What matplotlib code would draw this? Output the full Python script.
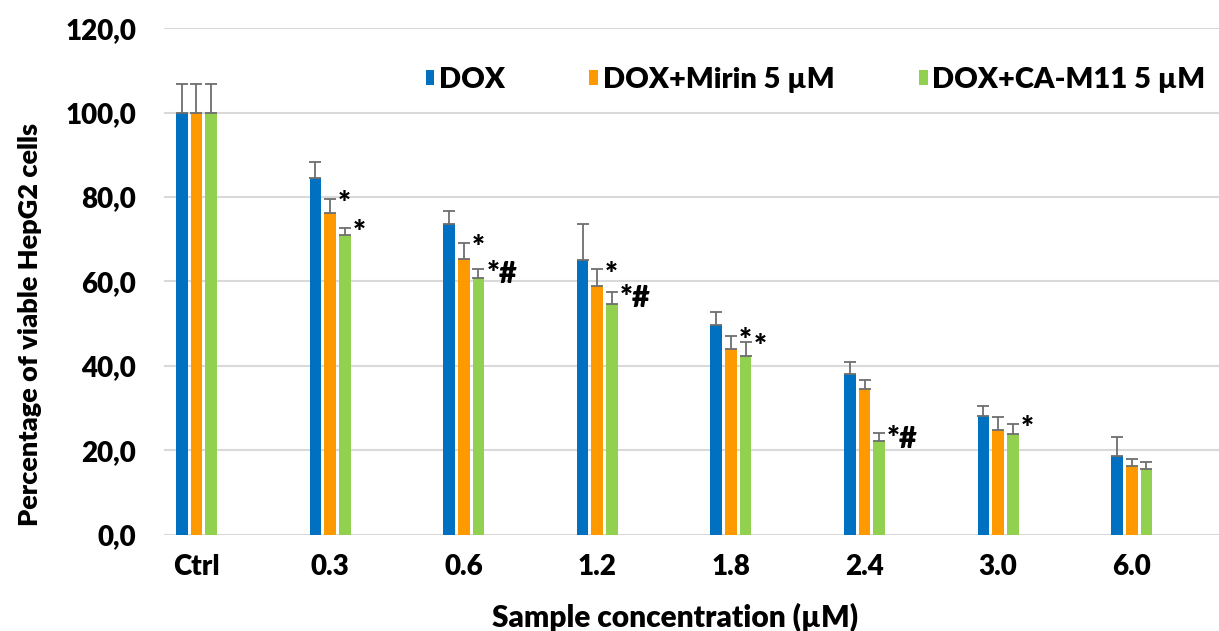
import numpy as np
import matplotlib
matplotlib.use("Agg")
import matplotlib.pyplot as plt
from matplotlib.patches import Patch

# Dados
categorias = ["Ctrl", "0.3", "0.6", "1.2", "1.8", "2.4", "3.0", "6.0"]
series = ["DOX", "DOX+Mirin 5 µM", "DOX+CA-M11 5 µM"]

dox = [100.0, 84.5, 73.5, 65.0, 49.7, 38.1, 28.1, 18.6]
dox_err = [6.8, 3.9, 3.3, 8.7, 3.1, 2.8, 2.4, 4.6]
mirin = [100.0, 76.1, 65.3, 58.9, 44.0, 34.4, 24.8, 16.3]
mirin_err = [6.8, 3.5, 3.9, 4.0, 3.1, 2.2, 3.0, 1.5]
cam11 = [100.0, 71.0, 60.8, 54.7, 42.2, 22.2, 23.8, 15.5]
cam11_err = [6.8, 1.7, 2.2, 2.7, 3.5, 1.8, 2.4, 1.7]

# marcas de significância
dox_marks = ["", "", "", "", "", "", "", ""]
mirin_marks = ["", "*", "*", "*", "*", "", "", ""]
cam11_marks = ["", "*", "*#", "*#", "*", "*#", "*", ""]

yticks = [0, 20, 40, 60, 80, 100, 120]
ytick_labels = ["0,0", "20,0", "40,0", "60,0", "80,0", "100,0", "120,0"]

cores = ["#0070C0", "#FF9900", "#92D050"]

plt.rcParams["font.family"] = ["Lato", "DejaVu Sans"]
plt.rcParams["font.weight"] = "heavy"

fig = plt.figure(figsize=(12.19, 6.31), dpi=100)
ax = fig.add_axes([164 / 1219, 1 - 534.5 / 631, 1 - 164 / 1219, (534.5 - 28.3) / 631])

x = np.arange(len(categorias))
passo = 0.110
largura = 0.0876

valores = [dox, mirin, cam11]
erros = [dox_err, mirin_err, cam11_err]
marcas = [dox_marks, mirin_marks, cam11_marks]

handles = []
for k in range(3):
    pos = x + (k - 1) * passo
    ax.bar(pos, valores[k], width=largura, color=cores[k], zorder=3,
           yerr=[np.zeros(len(x)), erros[k]],
           error_kw=dict(ecolor="#6E6E6E", elinewidth=1.3, capsize=4, capthick=1.3, zorder=4))
    handles.append(Patch(facecolor=cores[k], edgecolor="none", label=series[k]))
    # asteriscos / cardinal ao lado da barra
    for i, m in enumerate(marcas[k]):
        if m:
            ax.text(pos[i] + largura / 2 + 0.015, valores[k][i] + erros[k][i] - 3.4, m,
                    ha="left", va="baseline", fontsize=22, fontweight="heavy", zorder=5)

ax.set_ylim(0, 120)
ax.set_xlim(-0.243, 7.653)
ax.set_yticks(yticks)
ax.set_yticklabels(ytick_labels)
ax.set_xticks(x)
ax.set_xticklabels(categorias)
ax.tick_params(axis="both", length=0, labelsize=20)
ax.tick_params(axis="y", pad=20)
ax.tick_params(axis="x", pad=14)

ax.grid(axis="y", color="#D9D9D9", linewidth=1.5, zorder=0)
for s in ax.spines.values():
    s.set_visible(False)

ax.set_xlabel("Sample concentration (µM)", fontsize=21.5, fontweight="heavy")
ax.xaxis.set_label_coords((675 - 164) / 1055, (534.5 - 617) / 506.2)
ax.xaxis.label.set_va("center")
ax.set_ylabel("Percentage of viable HepG2 cells", fontsize=19.5, fontweight="heavy", va="center")
ax.yaxis.set_label_coords((30 - 164) / 1055, (534.5 - 324) / 506.2)

ax.legend(handles=handles, ncol=3, loc="center right", frameon=False,
          bbox_to_anchor=((1205 - 164) / 1055, (534.5 - 80) / 506.2),
          prop=dict(size=21, weight="heavy"), handlelength=0.3, handleheight=0.45,
          handletextpad=0.15, columnspacing=2.9, borderpad=0, borderaxespad=0)

fig.savefig("out.png", dpi=100)
